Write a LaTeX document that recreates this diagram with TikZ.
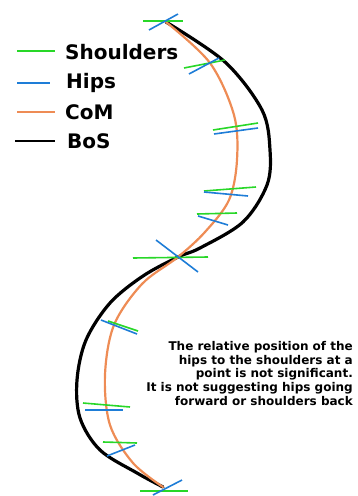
\documentclass[tikz,border=0pt]{standalone}
\usepackage{fontspec}
\setmainfont{DejaVu Sans}
\usetikzlibrary{positioning}
\definecolor{shouldergreen}{RGB}{40,215,40}
\definecolor{hipblue}{RGB}{30,125,215}
\definecolor{comorange}{RGB}{238,140,85}
\tikzset{
	shoulder/.style={shouldergreen, line width=1.6pt},
	hip/.style={hipblue, line width=1.6pt},
	com/.style={comorange, line width=2.2pt, line cap=round},
	bos/.style={black, line width=3.2pt, line cap=round},
	legendtext/.style={anchor=west, inner sep=0pt, font=\bfseries\fontsize{20}{22}\selectfont},
}
\begin{document}
\begin{tikzpicture}[x=1pt, y=-1pt]
	\useasboundingbox (0,0) rectangle (357,496);

% BoS
\draw[bos] plot[smooth, tension=0.55] coordinates {(166,22) (225,62) (262,110) (270,150) (267,185) (243,222) (200,248) (178,257) (143,276) (110,303) (86,340) (77,380) (80,418) (100,450) (137,473) (163,487)};

% CoM
\draw[com] plot[smooth, tension=0.55] coordinates {(166,22) (210,63) (234,115) (237,160) (229,200) (205,232) (178,257) (142,284) (114,325) (105,375) (110,425) (133,463) (163,487)};

% Schultern
\foreach \a/\b/\c/\d in {143/21/183/21, 184/68/225/60, 213/130/258/123, 204/191/256/187, 197/214/237/213, 133/258/208/257, 108/321/138/331, 83/403/130/407, 103/442/137/443, 140/491/188/491}
	\draw[shoulder] (\a,\b) -- (\c,\d);

% Hüften
\foreach \a/\b/\c/\d in {149/30/178/14, 189/74/219/58, 214/134/258/128, 204/192/248/196, 198/216/228/225, 156/240/198/272, 101/320/137/334, 85/410/123/410, 107/456/135/445, 153/495/182/480}
	\draw[hip] (\a,\b) -- (\c,\d);

% Legende
\node[legendtext] (lshoulders) at (65,52) {Shoulders};
\node[legendtext] (lhips) at (66,83) {Hips};
\node[legendtext] (lcom) at (65,112) {CoM};
\node[legendtext] (lbos) at (67,141) {BoS};
\draw[shoulder] (17,51) -- (55,51);
\draw[hip] (17,83) -- (50,83);
\draw[comorange, line width=1.6pt] (17,112) -- (55,112);
\draw[black, line width=1.6pt] (15,141) -- (55,141);

\node[anchor=north east, inner sep=0pt, align=right, font=\bfseries\fontsize{12}{13.7}\selectfont] (note) at (353,341) {The relative position of the\\hips to the shoulders at a\\point is not significant.\\It is not suggesting hips going\\forward or shoulders back};
\end{tikzpicture}
\end{document}
